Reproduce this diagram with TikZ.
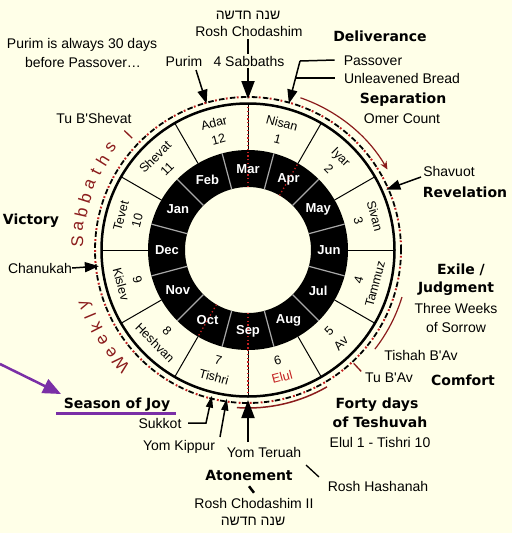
\documentclass[tikz,border=0pt]{standalone}
\usepackage{fontspec}
\setmainfont{Liberation Sans}
\newfontfamily\hebfont[Script=Hebrew]{Liberation Sans}
\newfontfamily\headfont{DejaVu Sans}
\TeXXeTstate=1
\usetikzlibrary{arrows.meta}
\definecolor{bgc}{HTML}{FFFFE8}
\definecolor{dred}{HTML}{8B1C1C}
\definecolor{rdot}{HTML}{C42020}
\definecolor{purp}{HTML}{7A2FA6}
\definecolor{sepg}{HTML}{A8A8A8}
\tikzset{
 txt/.style={font=\fontsize{14}{16}\selectfont, inner sep=0pt, text height=10pt, text depth=0pt},
 hd/.style={font=\headfont\bfseries\fontsize{14}{16}\selectfont, inner sep=0pt, text height=10pt, text depth=0pt},
 mon/.style={font=\fontsize{12.5}{17}\selectfont, align=center, inner sep=0pt},
 greg/.style={font=\bfseries\fontsize{13}{14}\selectfont, text=white, inner sep=0pt},
 wsl/.style={font=\fontsize{17}{17}\selectfont, text=dred, inner sep=0pt},
 arr/.style={line width=1.5pt, -{Triangle[length=14pt,width=10pt]}},
 bigarr/.style={line width=2pt, -{Triangle[length=18pt,width=13pt]}},
 smarr/.style={line width=1.5pt, -{Triangle[length=12pt,width=7pt]}},
 leader/.style={line width=1.5pt},
}
\begin{document}
\begin{tikzpicture}[x=1pt,y=-1pt]
\useasboundingbox (0,0) rectangle (512,533);
\fill[bgc] (0,0) rectangle (512,533);

\begin{scope}[shift={(248,250)}, yscale=-1]
  % dark gregorian ring
  \fill[black, even odd rule] (0,0) circle (100) (0,0) circle (63);
  \foreach \a in {15,45,...,345}
    \draw[sepg, line width=1.2pt] (\a:63) -- (\a:100);
  % red dotted lines in dark ring
  \foreach \a in {90,-90,60,-120}
    \draw[rdot, line width=1.3pt, dash pattern=on 1.3pt off 2.5pt] (\a:63) -- (\a:100);
  % hebrew month separators
  \foreach \a in {0,30,...,330}
    \draw[black, line width=1pt] (\a:100) -- (\a:146.5);
  \foreach \a in {90,-90}
    \draw[rdot, line width=1.3pt, dash pattern=on 1.3pt off 2.5pt] (\a:100) -- (\a:146.5);
  % outer circle
  \draw[black, line width=2.5pt] (0,0) circle (146.5);
  % dashed ring
  \draw[black, line width=1.8pt, dash pattern=on 5.5pt off 5.5pt] (0,0) circle (153);
  \draw[rdot, line width=2pt, dash pattern=on 1.8pt off 9.2pt, dash phase=3.2pt] (0,0) circle (153);

  % gregorian labels
  \foreach \a/\t in {90/Mar,60/Apr,30/May,0/Jun,-30/Jul,-60/Aug,-90/Sep,-120/Oct,-150/Nov,180/Dec,150/Jan,120/Feb}
    \node[greg] (g\t) at (\a:81) {\t};

  % hebrew month labels
  \foreach \a/\r/\t [count=\i] in {75/-15/{Nisan\\1}, 45/-45/{Iyar\\2}, 15/-75/{Sivan\\3}, -15/75/{4\\Tammuz}, -45/45/{5\\Av}, -75/15/{6\\\textcolor{rdot}{Elul}}, -105/-15/{7\\Tishri}, -135/-45/{8\\Heshvan}, -165/-75/{9\\Kislev}, 165/75/{Tevet\\10}, 135/45/{Shevat\\11}, 105/15/{Adar\\12}}
    \node[mon, rotate=\r] (hm\i) at (\a:123) {\t};

  % Weekly Sabbaths
  \foreach \a/\l [count=\i] in {222/W,216.8/e,211.8/e,207/k,202.6/l,198.4/y,177/S,172/a,167.2/b,162.4/b,157.6/a,152.9/t,148.2/h,143.3/s}
    \node[wsl, rotate=\a-90] (ws\i) at (\a:171) {\l};

  % arcs and ticks
  \draw[dred, line width=1.2pt, -{Stealth[length=8pt,width=7pt]}] (71:161) arc[start angle=71, end angle=30, radius=161];
  \draw[dred, line width=1.2pt] (-17:161) arc[start angle=-17, end angle=-38, radius=161];
  \draw[dred, line width=1.5pt] (-60:158) arc[start angle=-60, end angle=-94, radius=158];
  \coordinate (tsA) at (136:161); \coordinate (tsB) at (136:172);
  \coordinate (tbA) at (-47:155); \coordinate (tbB) at (-47:166);

  % arrow tips on the ring
  \coordinate (rcT) at (90:151);
  \coordinate (purT) at (105.8:152);
  \coordinate (pasT) at (74.4:152);
  \coordinate (shT) at (23.6:151);
  \coordinate (chT) at (186.2:150);
  \coordinate (skT) at (-103.9:150);
  \coordinate (ykT) at (-98.1:150);
  \coordinate (ytT) at (-90:150);
\end{scope}

\draw[dred, line width=1.3pt] (tsA) -- (tsB);
\draw[dred, line width=1.3pt] (tbA) -- (tbB);

% texts
\node[txt] (heb1) at (248,14) {\hebfont\beginR שנה חדשה\endR};
\node[txt] (rc) at (249,31) {Rosh Chodashim};
\node[txt] (pur1) at (82,43) {Purim is always 30 days};
\node[txt] (pur2) at (83,62) {before Passover…};
\node[txt] (purim) at (184,61) {Purim};
\node[txt] (tushev) at (94,118) {Tu B\textquotesingle Shevat};
\node[hd] (deliv) at (380,36) {Deliverance};
\node[txt] (pass) at (373,60) {Passover};
\node[txt] (unl) at (402,78) {Unleavened Bread};
\node[hd] (separ) at (403,98) {Separation};
\node[txt] (omer) at (402,118) {Omer Count};
\node[txt] (shav) at (449,171) {Shavuot};
\node[hd] (revel) at (465,192) {Revelation};
\node[hd] (victory) at (31,219) {Victory};
\node[txt] (chan) at (40,268) {Chanukah};
\node[hd] (exile) at (461,269) {Exile /};
\node[hd] (judg) at (456,287) {Judgment};
\node[txt] (threew) at (456,308) {Three Weeks};
\node[txt] (sorrow) at (456,327) {of Sorrow};
\node[txt] (tishah) at (421,355) {Tishah B\textquotesingle Av};
\node[txt] (tubav) at (389,377) {Tu B\textquotesingle Av};
\node[hd] (comfort) at (463,380) {Comfort};
\node[hd] (forty) at (377,403) {Forty days};
\node[hd] (teshuvah) at (380,422) {of Teshuvah};
\node[txt] (elulti) at (380,442) {Elul 1 - Tishri 10};
\node[txt] (rh) at (378,486) {Rosh Hashanah};
\node[hd] (soj) at (117,403) {Season of Joy};
\node[txt] (suk) at (160,423) {Sukkot};
\node[txt] (yk) at (179,445) {Yom Kippur};
\node[txt] (yt) at (264,452) {Yom Teruah};
\node[hd] (atone) at (249,475) {Atonement};
\node[txt] (rc2) at (254,503) {Rosh Chodashim II};
\node[txt] (heb2) at (253,520) {\hebfont\beginR שנה חדשה\endR};

% arrows
\coordinate (rcS) at (248,39);
\draw[bigarr] (rcS) -- (rcT);
\node[txt, fill=bgc, inner sep=2pt] (sab4) at (249,61) {4 Sabbaths};
\coordinate (purS) at (196,70);
\draw[arr] (purS) -- (purT);
\coordinate (pk) at (300,61);
\coordinate (pu) at (295.5,78);
\draw[leader] ([xshift=-9pt]pass.west) -- (pk);
\draw[leader] ([xshift=-9pt]unl.west) -- (pu);
\draw[arr] (pk) -- (pasT);
\coordinate (shS) at (421,177);
\draw[arr] (shS) -- (shT);
\draw[arr] (chan.east) -- (chT);
\coordinate (skA) at (188,423);
\coordinate (skB) at (206,423);
\draw[smarr] (skA) -- (skB) -- (skT);
\coordinate (ykS) at (220,437);
\draw[smarr] (ykS) -- (ykT);
\coordinate (ytS) at (248,442);
\draw[bigarr] (ytS) -- (ytT);
\draw[line width=2.5pt] ([yshift=-6pt]atone.south) -- ([yshift=5pt]rc2.north);
\coordinate (rhS) at (306,465);
\coordinate (rhE) at (319,477);
\draw[line width=1.3pt] (rhS) -- (rhE);

% season of joy
\coordinate (pS) at (0,364);
\coordinate (pT) at (61,394);
\draw[purp, line width=2.5pt, -{Triangle[length=18pt,width=15pt]}] (pS) -- (pT);
\coordinate (ul1) at (56,413);
\coordinate (ul2) at (176,413);
\draw[purp, line width=3pt] (ul1) -- (ul2);
\end{tikzpicture}
\end{document}
